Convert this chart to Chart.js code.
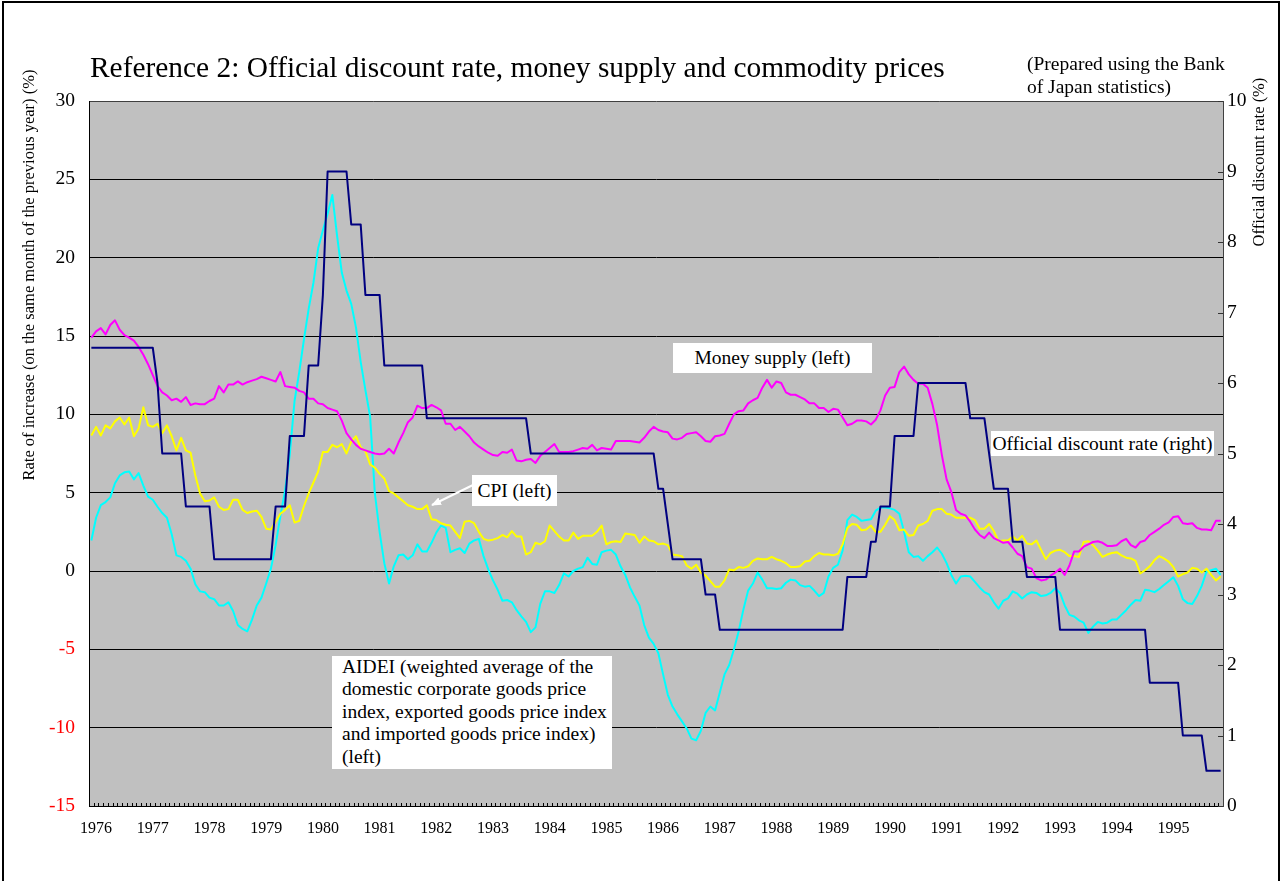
<!DOCTYPE html>
<html><head><meta charset="utf-8">
<script src="https://cdn.jsdelivr.net/npm/chart.js@4.4.1/dist/chart.umd.min.js"></script>
<style>
html,body{margin:0;padding:0;background:#fff;}
#wrap{position:relative;width:1281px;height:881px;overflow:hidden;font-family:'Liberation Serif','Times New Roman',serif;color:#000;}
#c{position:absolute;left:0;top:0;}
.t{position:absolute;white-space:nowrap;}
.box{position:absolute;background:#fff;white-space:nowrap;font-size:19.5px;}
#frame{position:absolute;left:2px;top:1px;width:1278px;height:900px;border:2px solid #000;box-sizing:border-box;pointer-events:none;}
</style></head><body>
<div id="wrap">
<canvas id="c" width="1281" height="881"></canvas>
<div id="frame"></div>
<div class="t" style="left:90px;top:51px;font-size:29.4px;line-height:32px;">Reference 2: Official discount rate, money supply and commodity prices</div>
<div class="t" style="left:1027px;top:53px;font-size:19.5px;line-height:22.6px;">(Prepared using the Bank<br>of Japan statistics)</div>
<div class="t" style="left:-221px;top:265px;width:500px;height:20px;line-height:20px;text-align:center;font-size:16.5px;transform:rotate(-90deg);">Rate of increase (on the same month of the previous year) (%)</div>
<div class="t" style="left:1109px;top:152px;width:300px;height:20px;line-height:20px;text-align:center;font-size:16.5px;transform:rotate(-90deg);">Official discount rate (%)</div>
<div class="box" style="left:673px;top:343px;width:199px;height:30px;line-height:30px;text-align:center;">Money supply (left)</div>
<div class="box" style="left:991px;top:431px;width:223px;height:25px;line-height:25px;text-align:center;">Official discount rate (right)</div>
<div class="box" style="left:472px;top:475px;width:85px;height:31px;line-height:31px;text-align:center;">CPI (left)</div>
<div class="box" style="left:332px;top:656px;width:270px;height:113px;line-height:22.4px;padding-left:10px;white-space:normal;">AIDEI (weighted average of the<br>domestic corporate goods price<br>index, exported goods price index<br>and imported goods price index)<br>(left)</div>
<svg width="1281" height="881" style="position:absolute;left:0;top:0;pointer-events:none">
<defs><marker id="ah" markerWidth="10" markerHeight="8" refX="9" refY="4" orient="auto" markerUnits="userSpaceOnUse"><path d="M0,0 L10,4 L0,8 z" fill="#fff"/></marker></defs>
<line x1="473" y1="485" x2="432" y2="505" stroke="#fff" stroke-width="2" marker-end="url(#ah)"/>
</svg>
</div>
<script>
const yearLabels = ['1976','1977','1978','1979','1980','1981','1982','1983','1984','1985','1986','1987','1988','1989','1990','1991','1992','1993','1994','1995'];
const firstMonth = '1975-12';
const leftTicks = [-15,-10,-5,0,5,10,15,20,25,30];
const rightTicks = [0,1,2,3,4,5,6,7,8,9,10];

const moneySupply = [14.9,15.3,15.5,15.1,15.7,16.0,15.4,15.05,14.9,14.7,
14.3,13.8,13.2,12.5,11.8,11.4,11.2,10.9,11.0,10.8,
11.1,10.6,10.7,10.65,10.65,10.85,11.0,11.8,11.4,11.9,
11.9,12.1,11.9,12.05,12.15,12.25,12.4,12.3,12.2,12.1,
12.7,11.8,11.75,11.7,11.5,11.4,11.0,11.0,10.7,10.65,
10.4,10.3,10.2,9.6,8.8,8.4,8.05,7.8,7.7,7.6,
7.5,7.45,7.5,7.8,7.5,8.2,8.8,9.5,9.8,10.55,
10.4,10.4,10.6,10.45,10.25,9.4,9.4,9.0,9.2,8.9,
8.6,8.2,7.95,7.75,7.55,7.4,7.35,7.6,7.55,7.75,
7.05,7.0,7.1,7.15,6.9,7.35,7.6,7.85,8.1,7.6,
7.6,7.6,7.65,7.75,7.85,7.8,8.05,7.7,7.85,7.8,
7.75,8.3,8.3,8.3,8.3,8.25,8.2,8.5,8.9,9.2,
9.0,8.9,8.85,8.45,8.4,8.5,8.75,8.8,8.85,8.6,
8.3,8.25,8.6,8.65,8.75,9.4,10.0,10.2,10.25,10.7,
10.9,11.05,11.7,12.2,11.7,12.1,12.0,11.4,11.25,11.25,
11.1,10.95,10.7,10.7,10.4,10.4,10.15,10.35,10.3,9.8,
9.3,9.4,9.6,9.6,9.55,9.35,9.65,10.25,11.2,11.7,
11.75,12.7,13.05,12.55,12.2,11.95,11.95,11.7,10.65,9.3,
7.4,5.85,5.05,3.9,3.65,3.55,3.15,2.65,2.3,2.1,
2.45,2.1,1.95,1.8,1.85,1.5,1.1,0.95,0.25,0.15,
-0.45,-0.6,-0.55,-0.3,-0.1,0.15,-0.25,0.35,1.25,1.25,
1.55,1.7,1.85,1.9,1.8,1.6,1.6,1.65,1.9,2.05,
1.65,1.5,1.85,1.95,2.3,2.5,2.7,2.95,3.1,3.45,
3.5,3.05,3.0,3.05,2.75,2.65,2.65,2.6,3.2,3.2];

const cpi = [8.65,9.2,8.65,9.3,9.1,9.55,9.8,9.35,9.8,8.6,
9.1,10.45,9.3,9.2,9.4,8.8,9.3,8.6,7.7,8.5,
7.7,7.55,6.1,4.95,4.45,4.5,4.7,4.1,3.9,3.95,
4.55,4.55,3.9,3.7,3.8,3.85,3.45,2.7,2.65,3.15,
3.65,3.9,4.2,3.1,3.2,4.15,4.95,5.65,6.35,7.6,
7.6,8.05,7.9,8.1,7.5,8.25,8.6,7.9,7.65,6.8,
6.6,6.2,5.9,5.1,4.95,4.7,4.45,4.2,4.1,3.95,
3.95,4.2,3.3,3.25,3.05,2.95,2.9,2.5,2.1,3.15,
3.2,3.05,2.5,2.05,1.95,2.0,2.1,2.3,2.15,2.55,
2.2,2.2,1.05,1.2,1.8,1.7,1.9,2.9,2.55,2.2,
1.95,1.95,2.45,2.05,2.25,2.25,2.25,2.5,2.9,1.7,
1.85,1.9,1.85,2.4,2.35,2.3,1.8,2.2,1.95,1.9,
1.7,1.75,1.65,1.05,1.0,0.95,0.35,0.15,0.4,-0.1,
-0.3,-0.65,-1.0,-1.0,-0.6,0.1,0.05,0.25,0.2,0.3,
0.65,0.8,0.75,0.75,0.9,0.75,0.65,0.5,0.25,0.25,
0.3,0.6,0.65,0.95,1.15,1.05,1.05,1.0,1.1,1.7,
2.75,3.0,2.95,2.6,2.65,2.9,2.5,2.5,2.95,3.5,
3.25,2.6,2.65,2.25,2.3,2.9,3.0,3.2,3.85,3.95,
3.95,3.65,3.6,3.4,3.4,3.4,3.4,3.25,2.7,2.7,
3.0,2.55,1.9,1.95,1.95,2.2,1.95,2.25,1.75,1.7,
1.95,1.35,0.75,1.15,1.3,1.35,1.2,0.95,0.95,0.9,
1.85,1.9,1.65,1.3,0.9,1.05,1.15,1.2,1.0,0.85,
0.8,0.65,-0.15,0.05,0.3,0.7,0.95,0.8,0.6,0.25,
-0.35,-0.2,-0.1,0.2,0.15,-0.1,0.15,-0.25,-0.6,-0.35];

const aidei = [1.95,3.4,4.2,4.4,4.7,5.6,6.1,6.3,6.35,5.85,
6.25,5.45,4.75,4.55,4.1,3.7,3.4,2.35,1.0,0.9,
0.65,0.15,-0.85,-1.3,-1.35,-1.7,-1.8,-2.2,-2.2,-2.0,
-2.55,-3.45,-3.7,-3.85,-3.1,-2.2,-1.7,-0.8,0.15,1.65,
3.5,5.15,7.45,10.85,12.7,14.8,16.75,18.4,20.6,21.75,
22.8,24.0,21.4,19.05,17.9,17.05,15.55,13.35,11.55,9.85,
4.95,2.5,0.5,-0.8,0.3,1.0,1.05,0.75,1.0,1.7,
1.25,1.25,1.8,2.45,2.9,2.75,1.2,1.35,1.45,1.15,
1.75,1.95,2.05,0.95,0.1,-0.6,-1.2,-1.9,-1.85,-2.0,
-2.5,-2.9,-3.25,-3.9,-3.6,-2.1,-1.3,-1.3,-1.4,-0.9,
-0.15,-0.35,0.0,0.15,0.25,0.85,0.45,0.4,1.2,1.3,
1.35,1.05,0.3,-0.25,-1.05,-1.65,-2.2,-3.45,-4.25,-4.65,
-5.25,-6.6,-7.9,-8.65,-9.15,-9.6,-10.05,-10.7,-10.8,-10.2,
-9.05,-8.65,-8.9,-7.75,-6.6,-6.0,-5.0,-3.85,-2.45,-1.25,
-0.8,-0.1,-0.55,-1.1,-1.1,-1.15,-1.1,-0.75,-0.55,-0.6,
-0.9,-1.0,-0.95,-1.25,-1.6,-1.4,-0.35,0.2,0.4,1.3,
3.25,3.6,3.45,3.2,3.25,3.3,3.85,4.05,4.05,4.0,
3.9,3.65,2.5,1.2,0.9,0.95,0.65,0.95,1.2,1.5,
1.1,0.5,-0.25,-0.8,-0.35,-0.3,-0.35,-0.7,-1.05,-1.35,
-1.5,-2.0,-2.4,-1.9,-1.75,-1.3,-1.45,-1.75,-1.5,-1.35,
-1.4,-1.6,-1.55,-1.4,-1.1,-1.4,-2.2,-2.8,-2.9,-3.15,
-3.3,-3.95,-3.55,-3.25,-3.35,-3.3,-3.1,-3.1,-2.8,-2.5,
-2.15,-1.85,-1.9,-1.2,-1.25,-1.35,-1.15,-0.9,-0.65,-0.4,
-0.95,-1.8,-2.05,-2.1,-1.6,-0.95,-0.05,0.05,0.15,-0.25];

const discountRate = [6.5,6.5,6.5,6.5,6.5,6.5,6.5,6.5,6.5,6.5,
6.5,6.5,6.5,6.5,6.0,5.0,5.0,5.0,5.0,5.0,
4.25,4.25,4.25,4.25,4.25,4.25,3.5,3.5,3.5,3.5,
3.5,3.5,3.5,3.5,3.5,3.5,3.5,3.5,3.5,4.25,
4.25,4.25,5.25,5.25,5.25,5.25,6.25,6.25,6.25,7.25,
9.0,9.0,9.0,9.0,9.0,8.25,8.25,8.25,7.25,7.25,
7.25,7.25,6.25,6.25,6.25,6.25,6.25,6.25,6.25,6.25,
6.25,5.5,5.5,5.5,5.5,5.5,5.5,5.5,5.5,5.5,
5.5,5.5,5.5,5.5,5.5,5.5,5.5,5.5,5.5,5.5,
5.5,5.5,5.5,5.0,5.0,5.0,5.0,5.0,5.0,5.0,
5.0,5.0,5.0,5.0,5.0,5.0,5.0,5.0,5.0,5.0,
5.0,5.0,5.0,5.0,5.0,5.0,5.0,5.0,5.0,5.0,
4.5,4.5,4.0,3.5,3.5,3.5,3.5,3.5,3.5,3.5,
3.0,3.0,3.0,2.5,2.5,2.5,2.5,2.5,2.5,2.5,
2.5,2.5,2.5,2.5,2.5,2.5,2.5,2.5,2.5,2.5,
2.5,2.5,2.5,2.5,2.5,2.5,2.5,2.5,2.5,2.5,
3.25,3.25,3.25,3.25,3.25,3.75,3.75,4.25,4.25,4.25,
5.25,5.25,5.25,5.25,5.25,6.0,6.0,6.0,6.0,6.0,
6.0,6.0,6.0,6.0,6.0,6.0,5.5,5.5,5.5,5.5,
5.0,4.5,4.5,4.5,4.5,3.75,3.75,3.75,3.25,3.25,
3.25,3.25,3.25,3.25,3.25,2.5,2.5,2.5,2.5,2.5,
2.5,2.5,2.5,2.5,2.5,2.5,2.5,2.5,2.5,2.5,
2.5,2.5,2.5,2.5,1.75,1.75,1.75,1.75,1.75,1.75,
1.75,1.0,1.0,1.0,1.0,1.0,0.5,0.5,0.5,0.5];

// monthly categories (first category precedes the first year label)
const categories = [firstMonth];
yearLabels.forEach(y => { for (let m = 1; m <= 12; m++) categories.push(y + '-' + String(m).padStart(2, '0')); });
categories.length = moneySupply.length;

const FONT = "'Liberation Serif', 'Times New Roman', serif";

const decor = {
  id: 'decor',
  beforeDraw(chart) {
    const {ctx, chartArea: a} = chart;
    ctx.save();
    ctx.fillStyle = '#C0C0C0';
    ctx.fillRect(a.left, a.top, a.right - a.left, a.bottom - a.top);
    ctx.restore();
  },
  afterDatasetsDraw(chart) {
    const {ctx, chartArea: a, scales} = chart;
    const x = scales.x, y2 = scales.y2;
    ctx.save();
    ctx.strokeStyle = '#000';
    ctx.lineWidth = 1;
    ctx.beginPath();
    for (let i = 1; i < categories.length; i++) {
      const px = Math.round((x.getPixelForValue(i - 1) + x.getPixelForValue(i)) / 2) + 0.5;
      ctx.moveTo(px, a.bottom);
      ctx.lineTo(px, a.bottom - 3);
    }
    ctx.stroke();
    ctx.strokeStyle = '#333';
    ctx.beginPath();
    rightTicks.forEach(v => {
      const py = Math.round(y2.getPixelForValue(v)) + 0.5;
      ctx.moveTo(a.right, py);
      ctx.lineTo(a.right - 5, py);
    });
    ctx.stroke();
    ctx.restore();
  }
};

const line = (label, data, color, axis) => ({
  label, data, borderColor: color, backgroundColor: color, borderWidth: 2,
  pointRadius: 0, pointHoverRadius: 0, fill: false, tension: 0, yAxisID: axis,
  borderJoinStyle: 'round'
});

new Chart(document.getElementById('c'), {
  type: 'line',
  data: {
    labels: categories,
    datasets: [
      line('Official discount rate (right)', discountRate, '#000080', 'y2'),
      line('Money supply (left)', moneySupply, '#FF00FF', 'y'),
      line('CPI (left)', cpi, '#FFFF00', 'y'),
      line('AIDEI (left)', aidei, '#00FFFF', 'y')
    ]
  },
  options: {
    responsive: false,
    devicePixelRatio: 1,
    animation: false,
    events: [],
    layout: { padding: { top: 101, left: 0, right: 0, bottom: 0 } },
    plugins: { legend: { display: false }, tooltip: { enabled: false }, title: { display: false } },
    scales: {
      x: {
        type: 'category',
        offset: true,
        grid: { display: true, drawOnChartArea: false, drawTicks: false },
        border: { display: true, color: '#000', width: 1 },
        ticks: {
          autoSkip: false, maxRotation: 0, minRotation: 0, padding: 13,
          color: '#000', font: { family: FONT, size: 16 },
          callback: function (v, idx) { const c = categories[idx]; return c.endsWith('-01') ? c.slice(0, 4) : ''; }
        },
        afterFit(scale) { scale.height = 75; }
      },
      y: {
        position: 'left', min: -15, max: 30,
        afterBuildTicks(scale) { scale.ticks = leftTicks.map(v => ({ value: v })); },
        grid: { color: ctx => (ctx.tick && ctx.tick.value === 30 ? '#404040' : '#000'), lineWidth: 1, drawTicks: false },
        border: { display: true, color: '#000', width: 1 },
        ticks: {
          padding: 14, font: { family: FONT, size: 19.5 },
          color: ctx => (ctx.tick && ctx.tick.value < 0 ? '#FF0000' : '#000'),
          callback: v => String(v)
        },
        afterFit(scale) { scale.width = 89; }
      },
      y2: {
        position: 'right', min: 0, max: 10,
        afterBuildTicks(scale) { scale.ticks = rightTicks.map(v => ({ value: v })); },
        grid: { drawOnChartArea: false, drawTicks: false },
        border: { display: true, color: '#404040', width: 1 },
        ticks: { padding: 4, color: '#000', font: { family: FONT, size: 19.5 }, callback: v => String(v) },
        afterFit(scale) { scale.width = 58; }
      }
    }
  },
  plugins: [decor]
});
</script>
</body></html>
